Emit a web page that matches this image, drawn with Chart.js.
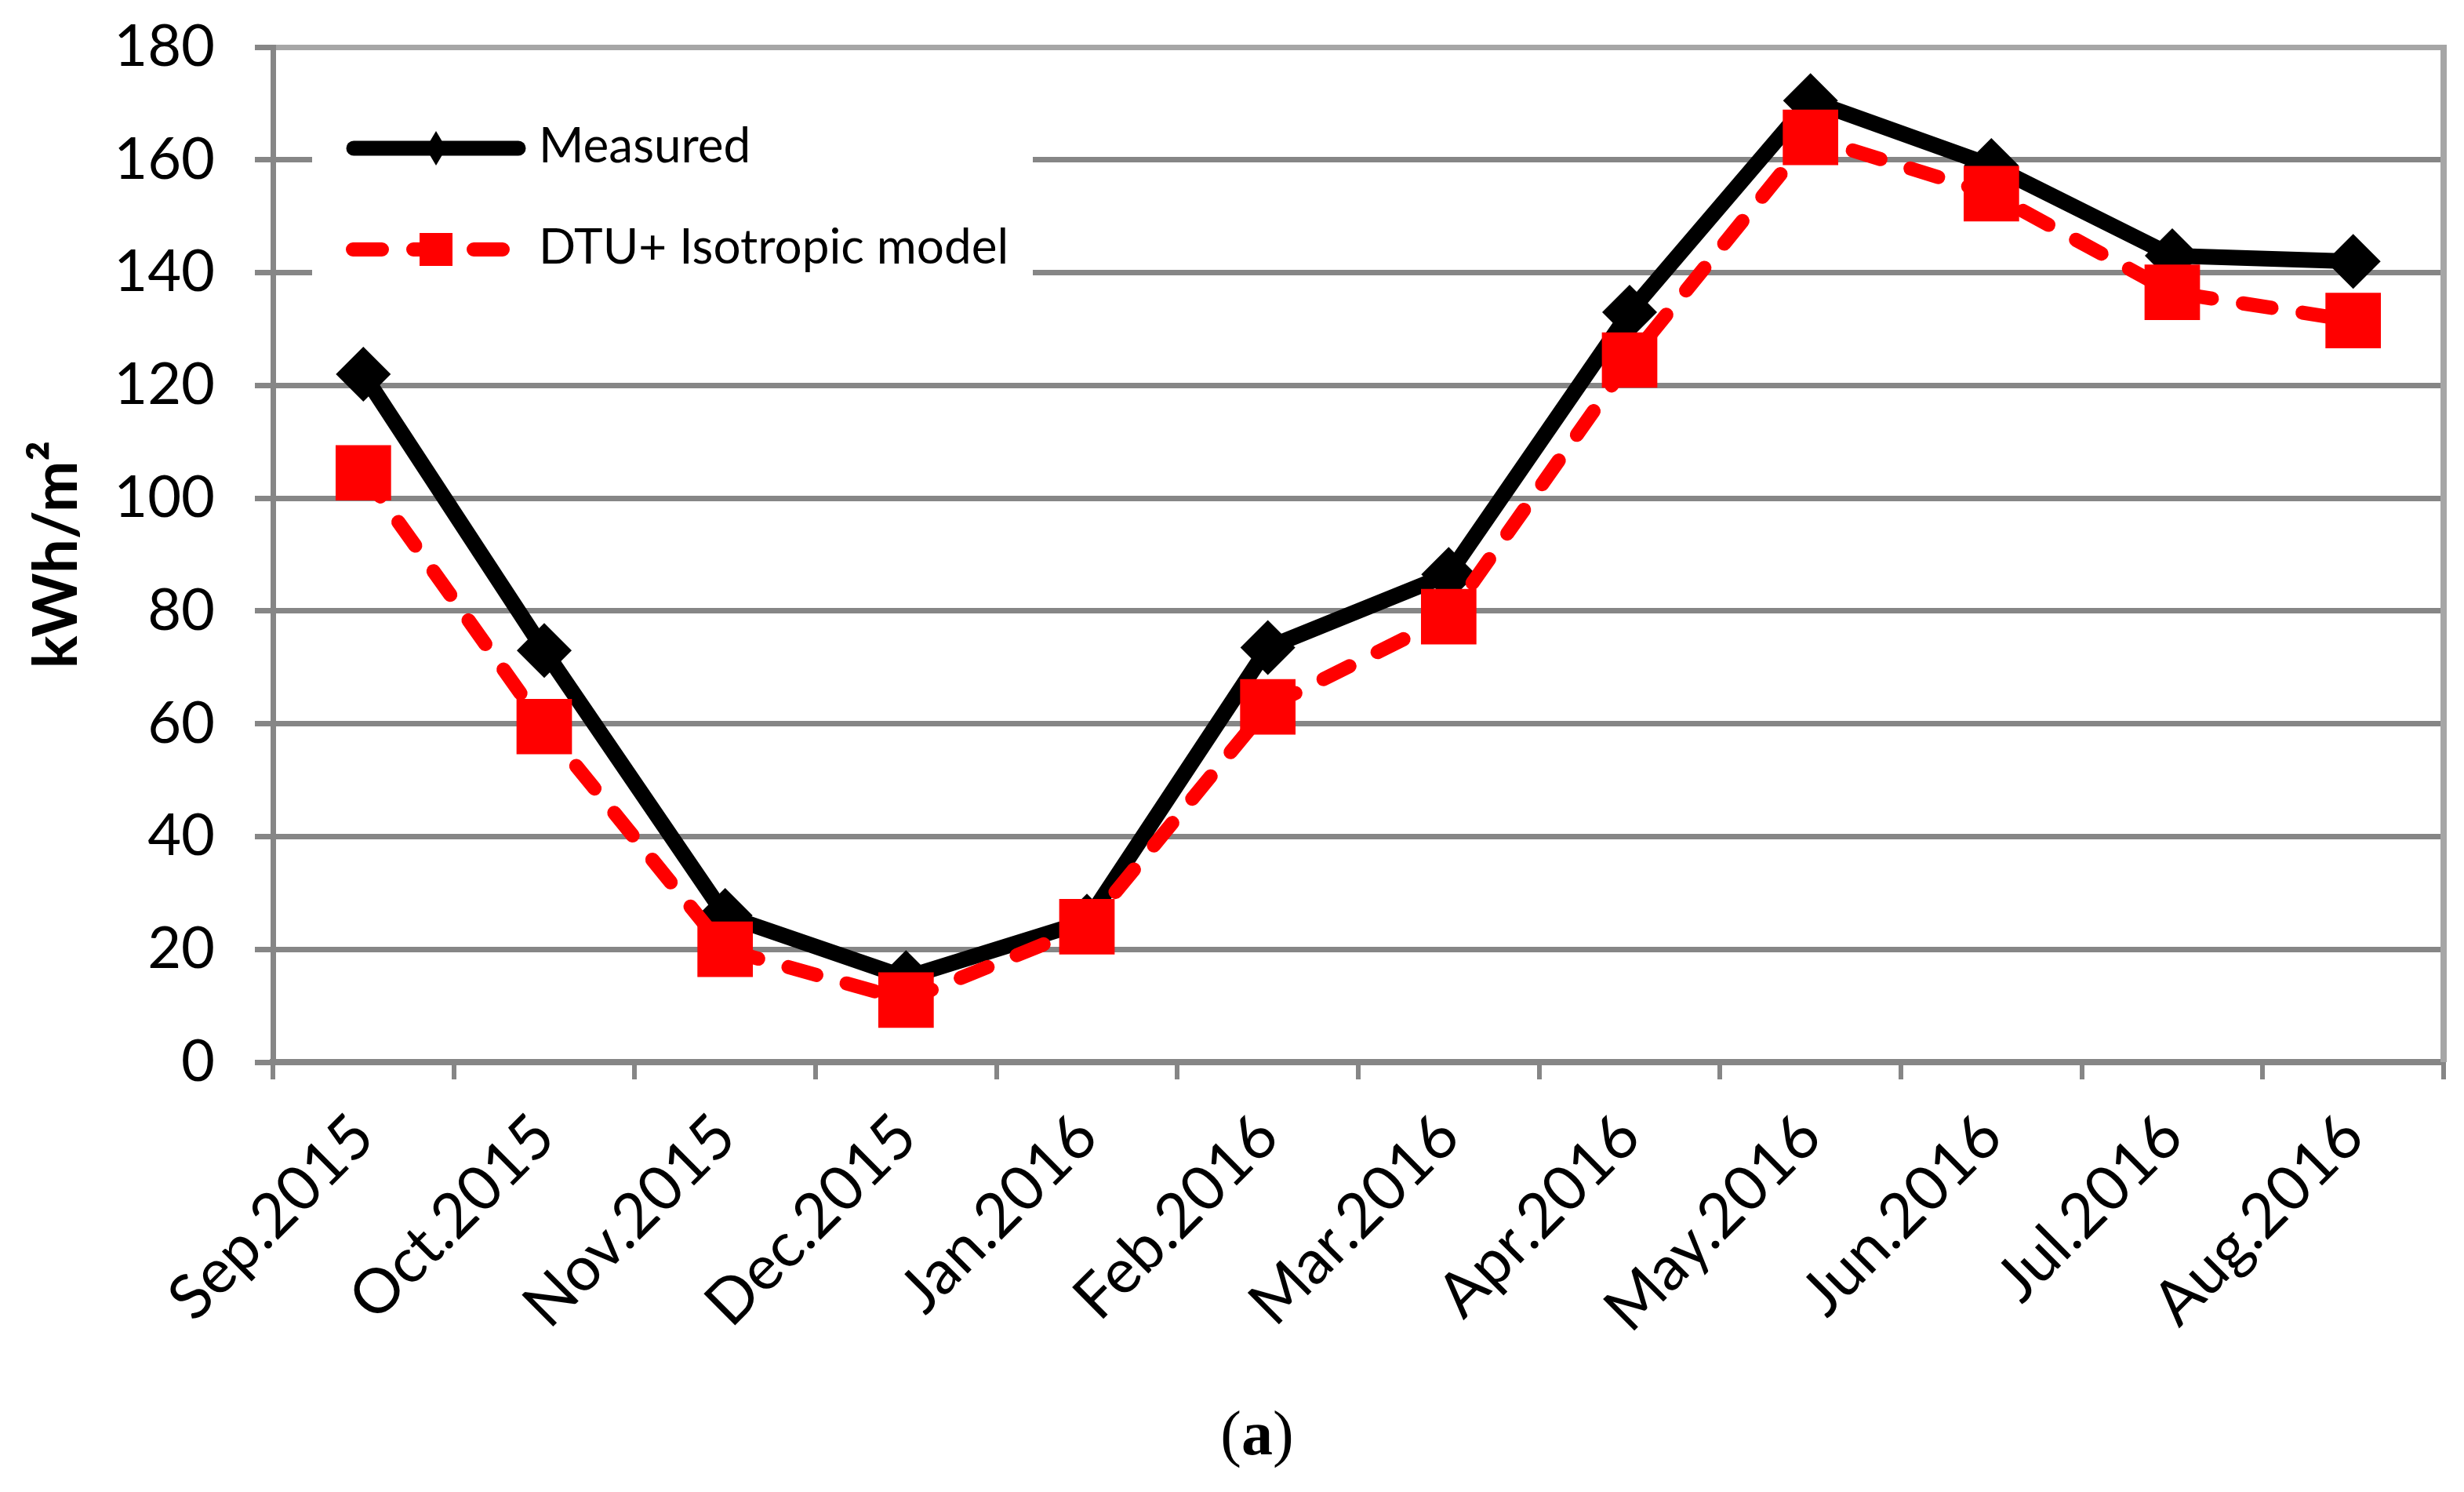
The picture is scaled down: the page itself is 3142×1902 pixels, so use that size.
<!DOCTYPE html>
<html>
<head>
<meta charset="utf-8">
<script src="https://cdn.jsdelivr.net/npm/chart.js@4/dist/chart.umd.min.js"></script>
<style>
  html, body { margin: 0; padding: 0; background: #fff; overflow: hidden; }
  #wrap { position: relative; width: 3142px; height: 1902px; }
  #caption {
    position: absolute; left: 1503px; top: 1787px; width: 200px;
    text-align: center; font-family: "Liberation Serif", serif;
    font-size: 80px; line-height: 80px; color: #000;
  }
</style>
</head>
<body>
<div id="wrap">
  <canvas id="chart" width="3142" height="1902"></canvas>
  <div id="caption">(<b>a</b>)</div>
</div>
<script>
const months = ['Sep.2015', 'Oct.2015', 'Nov.2015', 'Dec.2015', 'Jan.2016', 'Feb.2016',
  'Mar.2016', 'Apr.2016', 'May.2016', 'Jun.2016', 'Jul.2016', 'Aug.2016'];
const measured = [122, 73, 26, 15, 25, 73.5, 86.5, 133, 170.5, 159, 143, 142];
const dtuIsotropic = [104.5, 59.5, 20, 11, 24, 63, 79, 124.5, 164, 154, 136.5, 131.5];
const seriesNames = ['Measured', 'DTU+ Isotropic model'];

const axisGray = '#868686';
const borderGray = '#a6a6a6';
const fontFamily = 'Lato, "Open Sans", sans-serif';

// right plot border + legend inside the plot (white box over the gridlines)
const insideLegend = {
  id: 'insideLegend',
  beforeDatasetsDraw(chart) {
    const ctx = chart.ctx;
    const area = chart.chartArea;
    ctx.save();
    ctx.strokeStyle = borderGray;
    ctx.lineWidth = 8;
    ctx.beginPath();
    ctx.moveTo(area.right, area.top - 3);
    ctx.lineTo(area.right, area.bottom);
    ctx.stroke();

    ctx.fillStyle = '#fff';
    ctx.fillRect(398, 112, 919, 300);

    // Measured
    ctx.strokeStyle = '#000';
    ctx.lineWidth = 19;
    ctx.lineCap = 'round';
    ctx.beginPath();
    ctx.moveTo(451, 189);
    ctx.lineTo(661, 189);
    ctx.stroke();
    ctx.fillStyle = '#000';
    ctx.beginPath();
    ctx.moveTo(556, 167);
    ctx.lineTo(569, 189);
    ctx.lineTo(556, 211);
    ctx.lineTo(543, 189);
    ctx.closePath();
    ctx.fill();

    // DTU
    ctx.strokeStyle = '#ff0000';
    ctx.lineWidth = 18;
    ctx.setLineDash([37, 40]);
    ctx.beginPath();
    ctx.moveTo(450, 318);
    ctx.lineTo(662, 318);
    ctx.stroke();
    ctx.setLineDash([]);
    ctx.fillStyle = '#ff0000';
    ctx.fillRect(535, 297, 42, 42);

    ctx.fillStyle = '#000';
    ctx.font = '62px ' + fontFamily;
    ctx.textBaseline = 'middle';
    ctx.textAlign = 'left';
    ctx.fillText(seriesNames[0], 687, 187);
    ctx.fillText(seriesNames[1], 687, 316);
    ctx.restore();
  }
};

new Chart(document.getElementById('chart'), {
  type: 'line',
  data: {
    labels: months,
    datasets: [
      {
        label: seriesNames[0],
        data: measured,
        order: 2,
        borderColor: '#000',
        backgroundColor: '#000',
        borderWidth: 20,
        borderJoinStyle: 'round',
        borderCapStyle: 'round',
        pointStyle: 'rectRot',
        pointRadius: 35,
        pointBorderWidth: 0,
        pointBackgroundColor: '#000',
        tension: 0
      },
      {
        label: seriesNames[1],
        data: dtuIsotropic,
        order: 1,
        borderColor: '#ff0000',
        backgroundColor: '#ff0000',
        borderWidth: 18,
        borderDash: [37, 40],
        borderJoinStyle: 'round',
        borderCapStyle: 'round',
        pointStyle: 'rect',
        pointRadius: 50,
        pointBorderWidth: 0,
        pointBackgroundColor: '#ff0000',
        tension: 0
      }
    ]
  },
  options: {
    responsive: false,
    animation: false,
    devicePixelRatio: 1,
    layout: { autoPadding: false, padding: { top: 60, left: 0, right: 26, bottom: 0 } },
    plugins: {
      legend: { display: false },
      tooltip: { enabled: false }
    },
    scales: {
      x: {
        offset: true,
        grid: {
          offset: true,
          drawOnChartArea: false,
          drawTicks: true,
          tickLength: 22,
          color: axisGray,
          lineWidth: 6
        },
        border: { color: axisGray, width: 8 },
        ticks: {
          autoSkip: false,
          minRotation: 45,
          maxRotation: 45,
          padding: 26,
          color: '#000',
          font: { family: fontFamily, size: 79 }
        },
        afterFit(scale) {
          scale.height = 548;
          scale.paddingLeft = 0;
          scale.paddingRight = 0;
        }
      },
      y: {
        min: 0,
        max: 180,
        ticks: {
          stepSize: 20,
          padding: 51,
          color: '#000',
          font: { family: fontFamily, size: 74 }
        },
        grid: {
          color: (c) => (c.tick && c.tick.value === 180 ? borderGray : axisGray),
          lineWidth: 7,
          tickLength: 23,
          tickColor: axisGray
        },
        border: { color: axisGray, width: 7 },
        title: {
          display: true,
          text: 'kWh/m²',
          color: '#000',
          padding: { top: 26, bottom: 0 },
          font: { family: fontFamily, size: 78, weight: 'bold' }
        },
        afterFit(scale) {
          scale.width = 348;
          scale.paddingTop = 0;
          scale.paddingBottom = 0;
        }
      }
    }
  },
  plugins: [insideLegend]
});
</script>
</body>
</html>
